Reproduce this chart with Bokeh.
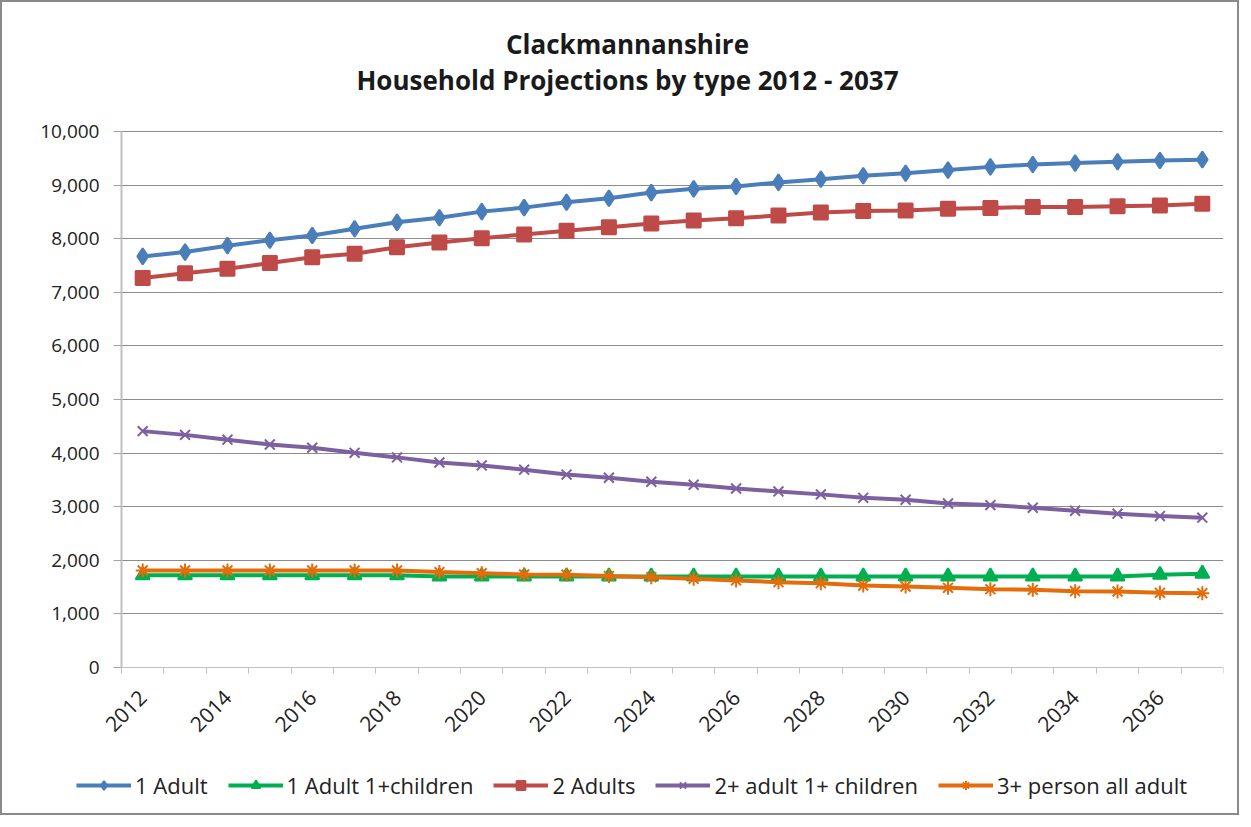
import math
from bokeh.plotting import figure
from bokeh.models import (FixedTicker, NumeralTickFormatter, Legend, LegendItem,
                          Label, Range1d)
from bokeh.embed import file_html
from bokeh.resources import INLINE

years = list(range(2012, 2038))
one_adult = [7670, 7750, 7870, 7970, 8060, 8185, 8305, 8390, 8505, 8580, 8680, 8755, 8860,
             8930, 8975, 9050, 9110, 9175, 9220, 9280, 9340, 9385, 9410, 9435, 9460, 9475]
one_adult_children = [1720, 1720, 1720, 1720, 1720, 1720, 1720, 1700, 1700, 1700, 1700, 1700, 1700,
                      1700, 1700, 1700, 1700, 1700, 1700, 1700, 1700, 1700, 1700, 1700, 1730, 1750]
two_adults = [7265, 7355, 7440, 7545, 7655, 7720, 7840, 7930, 8010, 8080, 8150, 8215, 8285,
              8340, 8380, 8435, 8490, 8515, 8525, 8560, 8575, 8590, 8590, 8605, 8620, 8650]
two_adult_children = [4410, 4340, 4250, 4160, 4100, 4005, 3920, 3825, 3770, 3690, 3600, 3540, 3465,
                      3410, 3340, 3285, 3230, 3165, 3130, 3060, 3030, 2980, 2925, 2870, 2825, 2795]
three_person = [1810, 1810, 1810, 1810, 1810, 1810, 1810, 1780, 1760, 1735, 1730, 1705, 1685,
                1655, 1625, 1592, 1573, 1530, 1511, 1487, 1461, 1449, 1424, 1418, 1393, 1386]

series_names = ["1 Adult", "1 Adult 1+children", "2 Adults", "2+ adult 1+ children", "3+ person all adult"]
series_colors = ["#4A7EBB", "#00B050", "#BE4B48", "#7D60A0", "#E46C0A"]
series_markers = ["diamond", "triangle", "square", "x", "asterisk"]
series_sizes = [16, 14, 14, 14, 14]
series_values = [one_adult, one_adult_children, two_adults, two_adult_children, three_person]
label_years = list(range(2012, 2037, 2))
y_ticks = list(range(0, 10001, 1000))
title_lines = ["Clackmannanshire", "Household Projections by type 2012 - 2037"]

FONT = "Open Sans"

# ---- layout (pixels) ----
W, H = 1235, 811
FRAME_L, FRAME_R = 20, 1224        # frame extent (image px)
FRAME_T, FRAME_B = 14, 808
PLOT_L, PLOT_T, PLOT_B = 122, 131, 667   # where the data area sits
x0, x1 = years[0] - 0.5, years[-1] + 0.5
y0, y1 = 0, 10000
px_x = (FRAME_R - PLOT_L) / (x1 - x0)
px_y = (PLOT_B - PLOT_T) / (y1 - y0)
xr = Range1d(x0 - (PLOT_L - FRAME_L) / px_x, x1)
yr = Range1d(y0 - (FRAME_B - PLOT_B) / px_y, y1 + (PLOT_T - FRAME_T) / px_y)

p = figure(frame_width=FRAME_R - FRAME_L, frame_height=FRAME_B - FRAME_T,
           output_backend="svg", toolbar_location=None,
           x_range=xr, y_range=yr,
           min_border_left=FRAME_L - 3, min_border_right=W - (FRAME_R - 3),
           min_border_top=FRAME_T - 2, min_border_bottom=H - (FRAME_B - 2))
p.outline_line_color = None
p.background_fill_color = "white"
p.border_fill_color = "white"

for i, line_text in enumerate(title_lines):
    p.add_layout(Label(x=628 - FRAME_L, y=FRAME_B - (43 + 36 * i), x_units="screen", y_units="screen",
                       text=line_text, text_align="center", text_baseline="middle",
                       text_font=FONT, text_font_size="26px", text_font_style="bold",
                       text_color="#1a1a1a"))

items = []
for name, col, mk, sz, vals in zip(series_names, series_colors, series_markers, series_sizes, series_values):
    ln = p.line(years, vals, line_color=col, line_width=4)
    sc = p.scatter(years, vals, marker=mk, size=sz, fill_color=col, line_color=col, line_width=2)
    items.append(LegendItem(label=name, renderers=[ln, sc]))

# Y axis
p.yaxis.fixed_location = x0
p.yaxis.bounds = (y0, y1)
p.yaxis.ticker = FixedTicker(ticks=y_ticks)
p.yaxis.formatter = NumeralTickFormatter(format="0,0")
p.yaxis.major_tick_line_color = "#A6A6A6"
p.yaxis.major_tick_out = 8
p.yaxis.major_tick_in = 0
p.yaxis.minor_tick_line_color = None
p.yaxis.axis_line_color = "#C0C0C0"
p.yaxis.axis_line_width = 2
p.yaxis.major_label_text_font = FONT
p.yaxis.major_label_text_font_size = "19px"
p.yaxis.major_label_text_color = "#222222"
p.yaxis.major_label_standoff = 14

# X axis
p.xaxis.fixed_location = y0
p.xaxis.bounds = (x0, x1)
p.xaxis.ticker = FixedTicker(ticks=label_years, minor_ticks=[y - 0.5 for y in years] + [x1])
p.xaxis.formatter = NumeralTickFormatter(format="0")
p.xaxis.major_tick_line_color = None
p.xaxis.minor_tick_line_color = "#C0C0C0"
p.xaxis.minor_tick_out = 6
p.xaxis.minor_tick_in = 0
p.xaxis.axis_line_color = "#C0C0C0"
p.xaxis.axis_line_width = 1
p.xaxis.major_label_orientation = math.pi / 4
p.xaxis.major_label_text_font = FONT
p.xaxis.major_label_text_font_size = "21px"
p.xaxis.major_label_text_color = "#222222"
p.xaxis.major_label_standoff = 20

p.xgrid.grid_line_color = None
p.ygrid.ticker = FixedTicker(ticks=y_ticks[1:])
p.ygrid.cross_bounds = (x0, x1)
p.ygrid.grid_line_color = "#8C8C8C"
p.ygrid.grid_line_width = 1.2

legend = Legend(items=items, orientation="horizontal", location=(77 - FRAME_L, 8),
                label_text_font=FONT, label_text_font_size="22px", label_text_color="#222222",
                glyph_width=55, glyph_height=22, spacing=20, label_standoff=4,
                border_line_color=None, background_fill_alpha=0, margin=0, padding=0)
p.add_layout(legend)

p.styles = {"border": "2px solid #8A8A8A"}

open("out.html", "w").write(file_html(p, INLINE))
